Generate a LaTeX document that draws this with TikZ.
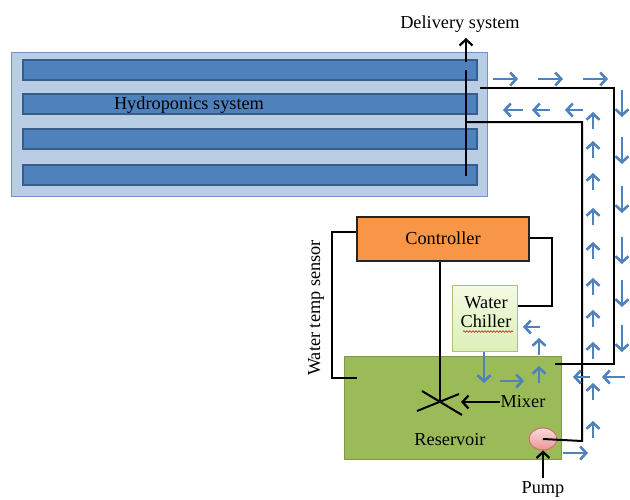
\documentclass[tikz,border=0pt]{standalone}
\usepackage{fontspec}
\setmainfont{Liberation Serif}
\usetikzlibrary{arrows.meta,shapes.geometric,decorations.pathmorphing}
\definecolor{hbox}{HTML}{B9CDE5}
\definecolor{hboxline}{HTML}{7393C4}
\definecolor{strip}{HTML}{4F81BD}
\definecolor{stripline}{HTML}{385D8A}
\definecolor{ctrlfill}{HTML}{F79646}
\definecolor{resfill}{HTML}{9BBB59}
\definecolor{resline}{HTML}{7E9A48}
\definecolor{chilltop}{HTML}{F3FAE3}
\definecolor{chillbot}{HTML}{DCF0B8}
\definecolor{chillline}{HTML}{A9C574}
\definecolor{pumptop}{HTML}{FCDADA}
\definecolor{pumpbot}{HTML}{E89696}
\definecolor{pumpline}{HTML}{D0706D}
\definecolor{flowblue}{HTML}{4F81BD}
\tikzset{
  lbl/.style={font=\fontsize{18.3}{20}\selectfont, inner sep=0pt},
  pipe/.style={draw=black, line width=2pt},
  blackarrow/.style={draw=black, line width=2pt, -{Straight Barb[length=6pt,width=13pt,line width=2.2pt]}},
  flow/.style={draw=flowblue, line width=2.6pt, -{Straight Barb[length=6pt,width=13pt,line width=2.6pt]}},
  stripbox/.style={draw=stripline, line width=1.6pt, fill=strip, minimum width=454pt, minimum height=20pt, inner sep=0pt},
}
\begin{document}
\begin{tikzpicture}[x=1pt,y=-1pt]
\useasboundingbox (0,0) rectangle (630,499);
% hydroponics
\node[draw=hboxline, line width=1pt, fill=hbox, minimum width=476pt, minimum height=144pt, inner sep=0pt] (hydro) at (249,124) {};
\node[stripbox] (s1) at (250,70) {};
\node[stripbox] (s2) at (250,104) {};
\node[stripbox] (s3) at (250,139) {};
\node[stripbox] (s4) at (250,175) {};
\node[lbl] (hlabel) at (189,105) {Hydroponics system};
\node[lbl] (dlabel) at (460,24) {Delivery system};
% delivery line
\coordinate (dtop) at (466,70);
\coordinate (dbot) at (466,176);
\coordinate (darr) at (466,62);
\coordinate (dtip) at (466,38);
\draw[pipe] (dtop) -- (dbot);
\draw[blackarrow] (darr) -- (dtip);
% controller, chiller, reservoir, pump
\node[draw=black!85, line width=1.3pt, fill=ctrlfill, minimum width=172pt, minimum height=44pt, inner sep=0pt] (ctrl) at (443,239) {};
\node[lbl] (ctrltext) at (443,238) {Controller};
\node[draw=resline, line width=1pt, fill=resfill, minimum width=217pt, minimum height=103pt, inner sep=0pt] (res) at (452.5,407.5) {};
\node[draw=chillline, line width=1pt, top color=chilltop, bottom color=chillbot, minimum width=65pt, minimum height=66pt, inner sep=0pt] (chill) at (484.5,318) {};
\node[lbl, align=center] (chilltext) at (486,312) {Water\\[-0.5pt]Chiller};
\draw[red!85!black, line width=0.6pt, decorate, decoration={snake, amplitude=0.8pt, segment length=3pt}] (463,331.5) -- (513,331.5);
\node[ellipse, draw=pumpline, line width=1pt, top color=pumptop, bottom color=pumpbot, minimum width=28pt, minimum height=22pt, inner sep=0pt] (pump) at (543,439) {};
\node[lbl] (rlabel) at (450,440) {Reservoir};
\node[lbl, anchor=base] (plabel) at (543,493) {Pump};
\node[lbl] (mlabel) at (523,402) {Mixer};
\node[lbl, rotate=90] (slabel) at (316,308) {Water temp sensor};
% mixer
\coordinate (mix) at (440,402);
\coordinate (mixA1) at (422,391);
\coordinate (mixA2) at (462,415);
\coordinate (mixB1) at (417,411);
\coordinate (mixB2) at (459,394);
\draw[pipe] (mixA1) -- (mixA2);
\draw[pipe] (mixB1) -- (mixB2);
\draw[pipe] (ctrl.south -| mix) -- (mix);
\coordinate (mixtip) at (461,402);
\draw[blackarrow] (mlabel.west) -- (mixtip);
% pump arrow
\coordinate (pbase) at (543,478);
\draw[blackarrow] (pbase) -- (pump.south);
% sensor line
\coordinate (sc1) at (332,232);
\coordinate (sc2) at (332,378);
\coordinate (sc3) at (357,378);
\draw[pipe] (ctrl.west |- sc1) -- (sc1) -- (sc2) -- (sc3);
% controller to chiller
\coordinate (cc1) at (552,238);
\coordinate (cc2) at (552,306);
\draw[pipe] (ctrl.east |- cc1) -- (cc1) -- (cc2) -- (chill.east |- cc2);
% outer pipe
\coordinate (o1) at (480,88);
\coordinate (o2) at (614,88);
\coordinate (o3) at (614,364);
\coordinate (o4) at (555,364);
\draw[pipe] (o1) -- (o2) -- (o3) -- (o4);
% inner pipe
\coordinate (i1) at (466,122);
\coordinate (i2) at (582,122);
\coordinate (i3) at (582,441);
\draw[pipe] (i1) -- (i2) -- (i3) -- (pump.center);
% flow arrows
\foreach \a/\b in {493/518, 538/563, 583/608}
  \draw[flow] (\a,79) -- (\b,79);
\foreach \a/\b in {523/503, 550/532, 583/565}
  \draw[flow] (\a,110) -- (\b,110);
\foreach \a in {90, 137, 186, 237, 280, 325}
  \draw[flow] (622,\a) -- (622,\a+27);
\foreach \t in {112, 141, 173, 208, 242, 278, 310, 342, 383, 421}
  \draw[flow] (593,\t+17) -- (593,\t);
\draw[flow] (625,377) -- (602,377);
\draw[flow] (590,377) -- (573,377);
\draw[flow] (563,453) -- (588,453);
\draw[flow] (540,327) -- (523,327);
\draw[flow] (539,355) -- (539,338);
\draw[flow] (539,383) -- (539,366);
\draw[flow] (484,352) -- (484,383);
\draw[flow] (500,381) -- (524,381);
\end{tikzpicture}
\end{document}
